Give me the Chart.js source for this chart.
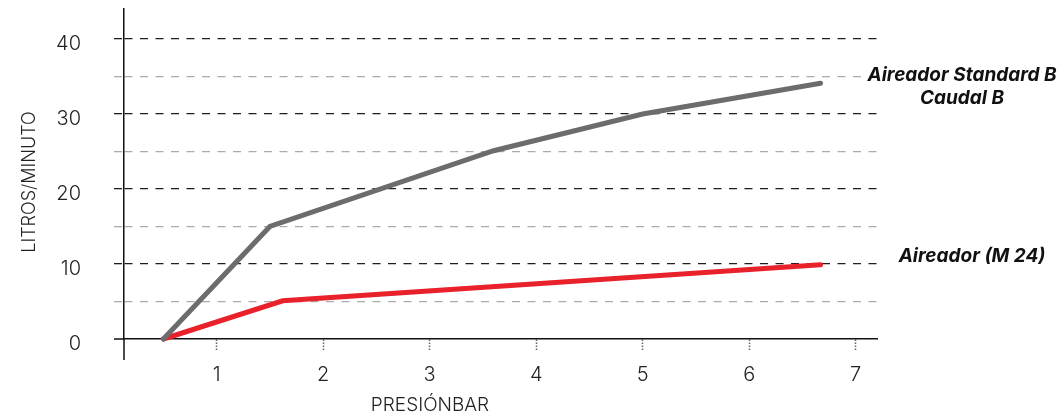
<!DOCTYPE html>
<html>
<head>
<meta charset="utf-8">
<script src="https://cdn.jsdelivr.net/npm/chart.js@4/dist/chart.umd.min.js"></script>
<style>
  html, body { margin: 0; padding: 0; background: #fff; }
  #wrap { width: 1064px; height: 419px; position: relative; }
</style>
</head>
<body>
<div id="wrap"><canvas id="c" width="1064" height="419"></canvas></div>
<script>
// ---- data ----
const pressureStd = [0.5, 1.5, 3.6, 5.0, 6.67];
const flowStd     = [0, 15, 25.1, 30, 34.1];
const pressureM24 = [0.5, 1.62, 6.67];
const flowM24     = [0, 5.1, 9.9];
const xTickValues = [1, 2, 3, 4, 5, 6, 7];
const yTickValues = [0, 5, 10, 15, 20, 25, 30, 35, 40];
const seriesNames = ['Aireador Standard B', 'Aireador (M 24)'];
const seriesSubLabel = 'Caudal B';
const xTitle = 'PRESIÓNBAR';
const yTitle = 'LITROS/MINUTO';

const FONT = 'Inter, "Open Sans", "Noto Sans", sans-serif';
const DASH = [8, 7.5];

const toPoints = (xs, ys) => xs.map((x, i) => ({ x: x, y: ys[i] }));

const extrasPlugin = {
  id: 'extras',
  afterDraw(chart) {
    const { ctx, chartArea, scales } = chart;
    const y0 = scales.y.getPixelForValue(0);
    ctx.save();
    // axis extensions (crossing lines)
    ctx.strokeStyle = '#111';
    ctx.lineWidth = 1.5;
    ctx.beginPath();
    ctx.moveTo(chartArea.left, chartArea.bottom);
    ctx.lineTo(chartArea.left, chartArea.bottom + 21);
    ctx.moveTo(chartArea.left - 10, y0);
    ctx.lineTo(chartArea.left, y0);
    ctx.stroke();

    // axis titles
    ctx.fillStyle = '#222';
    ctx.font = '300 19px ' + FONT;
    ctx.textAlign = 'center';
    ctx.textBaseline = 'middle';
    ctx.fillText(xTitle, 430, 405);
    ctx.save();
    ctx.translate(30, 182);
    ctx.rotate(-Math.PI / 2);
    ctx.font = '300 18px ' + FONT;
    ctx.fillText(yTitle, 0, 0);
    ctx.restore();

    // series labels at the end of each line
    const m0 = chart.getDatasetMeta(0).data;
    const m1 = chart.getDatasetMeta(1).data;
    const p0 = m0[m0.length - 1];
    const p1 = m1[m1.length - 1];
    ctx.font = 'italic 700 19px ' + FONT;
    const w1 = ctx.measureText(seriesNames[0]).width;
    ctx.fillStyle = '#fff';
    ctx.fillRect(962 - w1 / 2 - 3, p0.y - 18, w1 + 6, 21);
    ctx.fillStyle = '#111';
    ctx.fillText(seriesNames[0], 962, p0.y - 8);
    ctx.fillText(seriesSubLabel, 962, p0.y + 15);
    ctx.fillText(seriesNames[1], 972, p1.y - 8);
    ctx.restore();
  }
};

new Chart(document.getElementById('c'), {
  type: 'line',
  data: {
    datasets: [
      {
        label: seriesNames[0],
        data: toPoints(pressureStd, flowStd),
        borderColor: '#6c6c6e',
        borderWidth: 5,
        pointRadius: 0,
        tension: 0,
        borderCapStyle: 'round',
        borderJoinStyle: 'miter',
        clip: false
      },
      {
        label: seriesNames[1],
        data: toPoints(pressureM24, flowM24),
        borderColor: '#e8212b',
        borderWidth: 5,
        pointRadius: 0,
        tension: 0,
        borderCapStyle: 'round',
        borderJoinStyle: 'miter',
        clip: false
      }
    ]
  },
  options: {
    responsive: false,
    animation: false,
    events: [],
    layout: { padding: { left: 0, top: 9, right: 187, bottom: 0 } },
    plugins: { legend: { display: false }, tooltip: { enabled: false } },
    scales: {
      x: {
        type: 'linear',
        min: 0.13,
        max: 7.2,
        afterBuildTicks: (s) => { s.ticks = xTickValues.map(v => ({ value: v })); },
        afterFit: (s) => { s.height = 80; s.paddingLeft = 0; s.paddingRight = 0; },
        border: { display: true, color: '#111', width: 1.5 },
        grid: {
          drawOnChartArea: false,
          drawTicks: true,
          tickLength: 12,
          tickColor: '#666',
          tickWidth: 1.5,
          tickBorderDash: [1.5, 1.5]
        },
        ticks: {
          color: '#222',
          font: { family: FONT, size: 20, weight: 300 },
          padding: 12,
          maxRotation: 0,
          callback: (v) => String(v)
        }
      },
      y: {
        type: 'linear',
        min: 0,
        max: 44,
        afterBuildTicks: (s) => { s.ticks = yTickValues.map(v => ({ value: v })); },
        afterFit: (s) => { s.width = 124; s.paddingTop = 0; s.paddingBottom = 0; },
        border: {
          display: true, color: '#111', width: 1.5,
          dash: DASH
        },
        grid: {
          drawOnChartArea: true,
          drawTicks: true,
          tickLength: 10,
          lineWidth: 1.3,
          tickWidth: 1.3,
          tickBorderDash: DASH,
          color: (ctx) => {
            const v = ctx.tick ? ctx.tick.value : 0;
            if (v === 0) return 'rgba(0,0,0,0)';
            return v % 10 === 0 ? '#1e1e1e' : '#ababab';
          },
          tickColor: (ctx) => {
            const v = ctx.tick ? ctx.tick.value : 0;
            if (v === 0) return 'rgba(0,0,0,0)';
            return v % 10 === 0 ? '#1e1e1e' : '#ababab';
          }
        },
        ticks: {
          color: '#222',
          font: { family: FONT, size: 20, weight: 300 },
          padding: 33,
          labelOffset: 5,
          callback: (v) => (v % 10 === 0 ? String(v) : '')
        }
      }
    }
  },
  plugins: [extrasPlugin]
});
</script>
</body>
</html>
